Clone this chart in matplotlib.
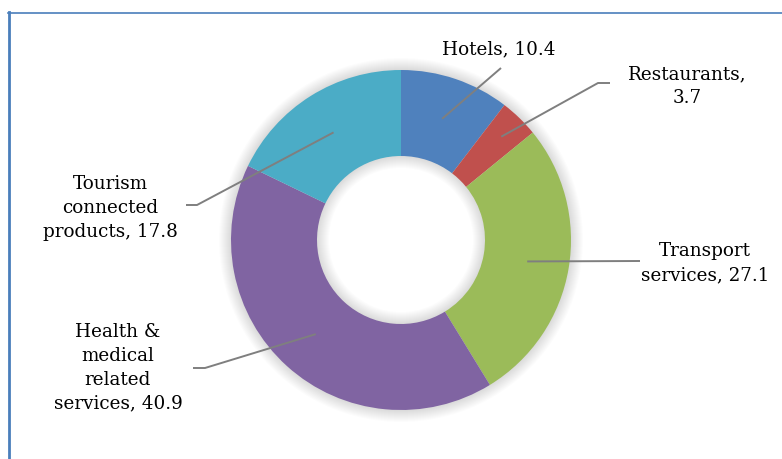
import numpy as np
import matplotlib.pyplot as plt
from matplotlib.patches import Wedge

# share of tourism earnings by sector
sectors = ["Hotels", "Restaurants", "Transport services",
           "Health & medical related services", "Tourism connected products"]
shares = [10.4, 3.7, 27.1, 40.9, 17.8]
labels = ["Hotels, 10.4", "Restaurants,\n3.7", "Transport\nservices, 27.1",
          "Health &\nmedical\nrelated\nservices, 40.9", "Tourism\nconnected\nproducts, 17.8"]
colors = ["#4F81BD", "#C0504D", "#9BBB59", "#8064A2", "#4BACC6"]

W, H = 782, 459
fig = plt.figure(figsize=(W / 100, H / 100), dpi=100)
ax = fig.add_axes([0, 0, 1, 1])

cx, cy = 401, H - 240
r_out, ring = 170, 86

# soft shadow under the ring
for k in range(12):
    ax.add_patch(Wedge((cx, cy), r_out + 1 + k, 0, 360, width=ring + 2 * k + 2,
                       color="black", alpha=0.012, lw=0))

wedges, _ = ax.pie(shares, colors=colors, startangle=90, counterclock=False,
                   radius=r_out, center=(cx, cy),
                   wedgeprops=dict(width=ring, edgecolor="none"))

# label text position, leader elbow, leader end, anchor radius
text_pos = [(499, 49), (687, 86), (705, 263), (118, 368), (110, 208)]
elbows = [None, (598, 83), None, (205, 368), (197, 205)]
ends = [(501, 68), (610, 83), (640, 261), (193, 368), (186, 205)]
anchor_r = [128, 144, 128, 127, 127]

cum = np.cumsum([0] + shares[:-1])
total = sum(shares)
for i, s in enumerate(shares):
    ang = np.deg2rad((cum[i] + s / 2) / total * 360)
    ax_ = cx + anchor_r[i] * np.sin(ang)
    ay_ = cy + anchor_r[i] * np.cos(ang)
    pts = [(ax_, ay_)]
    if elbows[i] is not None:
        pts.append((elbows[i][0], H - elbows[i][1]))
    pts.append((ends[i][0], H - ends[i][1]))
    xs, ys = zip(*pts)
    ax.plot(xs, ys, color="#7F7F7F", lw=1.4, solid_capstyle="butt")
    ax.text(text_pos[i][0], H - text_pos[i][1], labels[i], ha="center", va="center",
            fontsize=13.2, family="DejaVu Serif", color="black", linespacing=1.42)

# chart frame (left and top edges)
ax.plot([8.5, 8.5], [0, H - 12], color="#4A7EBB", lw=2.0)
ax.plot([8, W], [H - 12.5, H - 12.5], color="#4A7EBB", lw=1.2)

ax.set_xlim(0, W)
ax.set_ylim(0, H)
ax.set_aspect("auto")
ax.axis("off")
fig.savefig("out.png", dpi=100)
